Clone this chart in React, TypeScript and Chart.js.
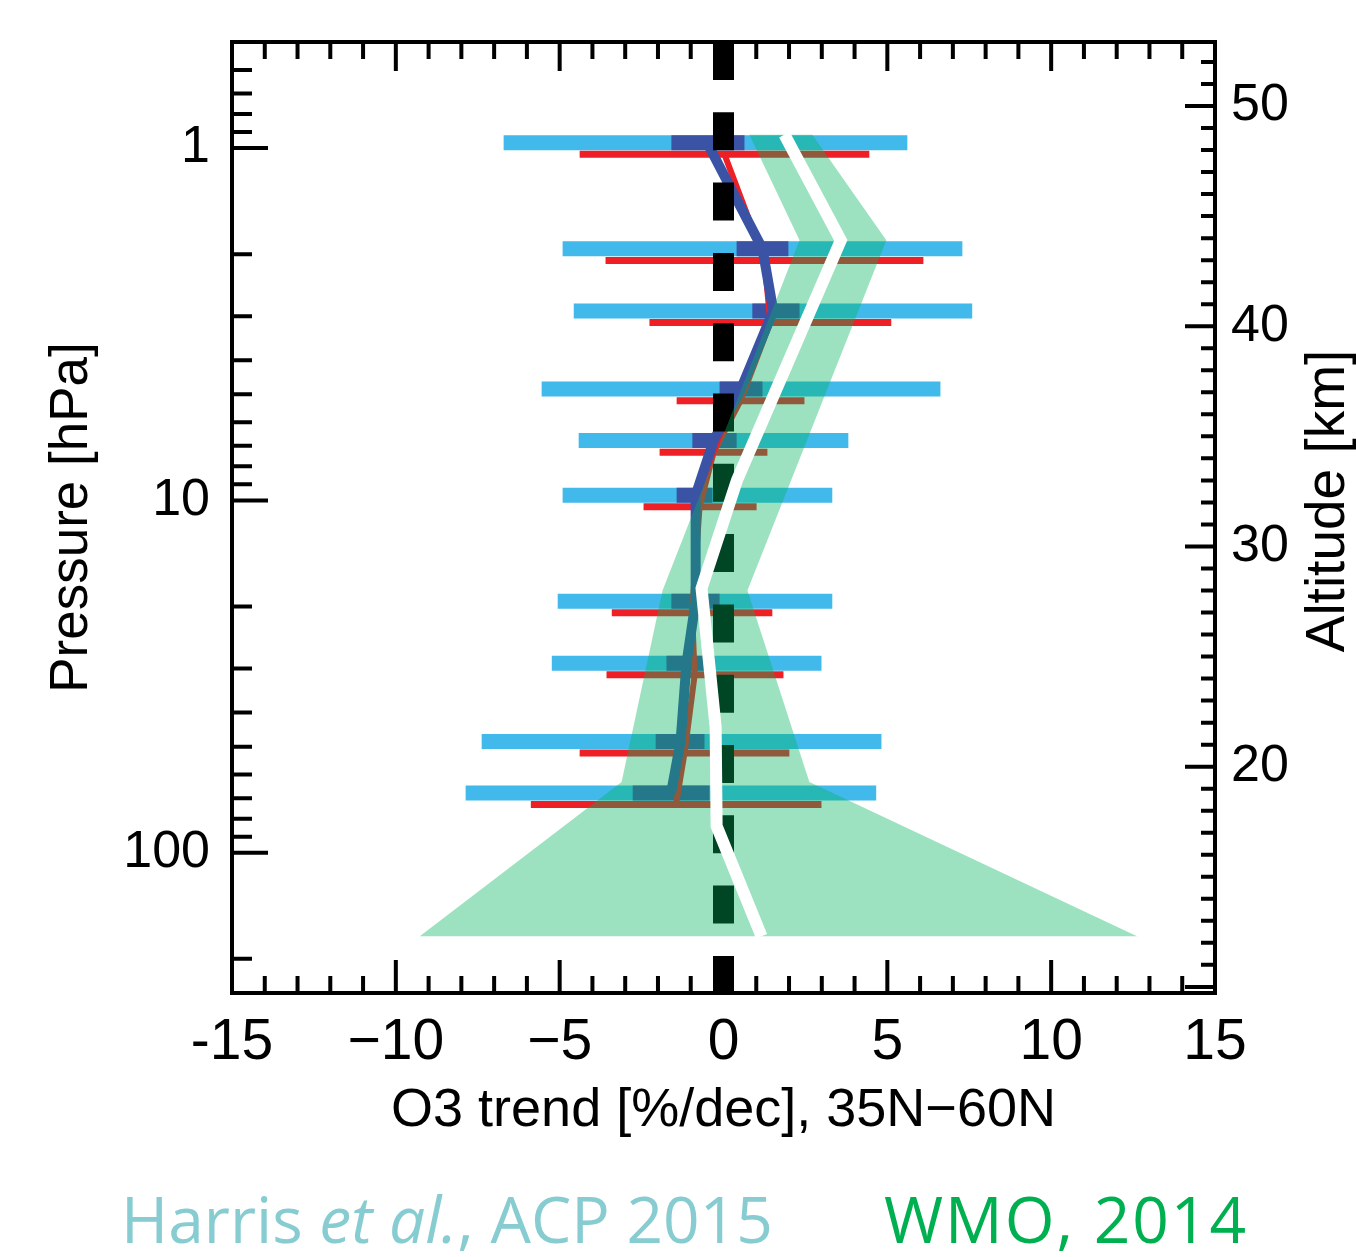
import React, { useEffect, useRef } from 'react';
import { Chart, registerables } from 'chart.js';

Chart.register(...registerables);

const W = 1356;
const H = 1257;

// Pressure levels of the Harris et al. profiles [hPa]
const LEVELS = [1, 2, 3, 5, 7, 10, 20, 30, 50, 70];
// light-blue bars (full range)
const BLUE_LO = [-6.71, -4.91, -4.57, -5.55, -4.42, -4.91, -5.06, -5.24, -7.38, -7.87];
const BLUE_HI = [5.61, 7.29, 7.59, 6.62, 3.81, 3.32, 3.32, 2.99, 4.82, 4.66];
// dark-blue inner bars
const BLUE_SIG_LO = [-1.59, 0.4, 0.88, -0.12, -0.95, -1.43, -1.59, -1.74, -2.07, -2.77];
const BLUE_SIG_HI = [0.64, 1.98, 2.32, 1.19, 0.4, -0.34, -0.12, -0.52, -0.58, -0.43];
// dark-blue mean profile
const BLUE_MEAN = [-0.5, 1.19, 1.52, 0.53, -0.3, -0.85, -0.85, -1.13, -1.31, -1.6];
// red bars and red mean profile
const RED_LO = [-4.39, -3.6, -2.26, -1.43, -1.95, -2.44, -3.41, -3.57, -4.39, -5.88];
const RED_HI = [4.45, 6.1, 5.12, 2.47, 1.34, 1.01, 1.49, 1.83, 2.01, 2.99];
const RED_MEAN = [0.03, 1.25, 1.43, 0.52, -0.3, -0.73, -0.96, -0.88, -1.19, -1.45];

// WMO 2014 profile (altitude in km)
const WMO_MEAN_ALT = [48.7, 43.9, 33.0, 28.1, 21.8, 17.3, 12.3];
const WMO_MEAN = [1.86, 3.58, 0.41, -0.67, -0.24, -0.21, 1.16];
const WMO_HI_ALT = [48.7, 43.9, 28.0, 19.3, 12.3];
const WMO_HI = [2.71, 4.97, 0.73, 2.62, 12.62];
const WMO_LO_ALT = [48.7, 43.9, 28.0, 19.3, 12.3];
const WMO_LO = [0.79, 2.32, -1.86, -3.11, -9.27];

// axes
const X_TICKS = [-15, -10, -5, 0, 5, 10, 15];
const X_TICK_LABELS = ['-15', '\u221210', '\u22125', '0', '5', '10', '15'];
const P_TICKS = [1, 10, 100];
const P_TICK_LABELS = ['1', '10', '100'];
const Z_TICKS = [20, 30, 40, 50];
const Z_TICK_LABELS = ['20', '30', '40', '50'];
const P_MIN = 0.5;
const P_MAX = 250;
const P_SURF = 1013;
const KM_PER_DECADE = 16;
const Z_MAX = KM_PER_DECADE * Math.log10(P_SURF / P_MIN);
const Z_MIN = KM_PER_DECADE * Math.log10(P_SURF / P_MAX);

const BLUE_SHIFT = 0.966;
const RED_SHIFT = 1.042;

const FONT = "'Liberation Sans', Arial, Helvetica, sans-serif";

function bars(lo: number[], hi: number[], f: number) {
  const out: any[] = [];
  LEVELS.forEach((p, i) => {
    out.push({ x: lo[i], y: p * f });
    out.push({ x: hi[i], y: p * f });
    out.push({ x: null, y: null });
  });
  return out;
}

function profile(xs: number[], f: number) {
  return LEVELS.map((p, i) => ({ x: xs[i], y: p * f }));
}

const decorPlugin = {
  id: 'decor',
  afterDatasetsDraw(chart: any) {
    const { ctx, chartArea: a, scales } = chart;
    ctx.save();
    ctx.strokeStyle = '#000';
    ctx.lineWidth = 4;
    ctx.lineCap = 'butt';
    ctx.beginPath();
    // x ticks, bottom and top (inward)
    for (let v = -15; v <= 15; v++) {
      const px = scales.x.getPixelForValue(v);
      const major = v % 5 === 0;
      ctx.moveTo(px, a.bottom);
      ctx.lineTo(px, a.bottom - (major ? 33 : 17));
      ctx.moveTo(px, a.top);
      ctx.lineTo(px, a.top + (major ? 29 : 17));
    }
    // pressure ticks, left
    for (const dec of [0.1, 1, 10, 100]) {
      for (let m = 1; m <= 9; m++) {
        const v = m * dec;
        if (v <= P_MIN || v >= P_MAX) continue;
        const py = scales.y.getPixelForValue(v);
        ctx.moveTo(a.left, py);
        ctx.lineTo(a.left + (m === 1 ? 36 : 20), py);
      }
    }
    // altitude ticks, right
    for (let z = Math.ceil(Z_MIN); z <= Z_MAX; z++) {
      const py = scales.y2.getPixelForValue(z);
      ctx.moveTo(a.right, py);
      ctx.lineTo(a.right - (z % 10 === 0 ? 30 : 14), py);
    }
    ctx.stroke();
    ctx.strokeRect(a.left, a.top, a.right - a.left, a.bottom - a.top);
    ctx.restore();
  },
  afterDraw(chart: any) {
    const { ctx } = chart;
    ctx.save();
    // right axis title (reads bottom to top)
    ctx.fillStyle = '#000';
    ctx.font = `55px ${FONT}`;
    ctx.textAlign = 'center';
    ctx.textBaseline = 'middle';
    ctx.translate(1329, 501);
    ctx.rotate(-Math.PI / 2);
    ctx.fillText('Altitude [km]', 0, 0);
    ctx.restore();

    // source credits
    ctx.save();
    ctx.textBaseline = 'alphabetic';
    ctx.textAlign = 'left';
    const base = 1243;
    let x = 121;
    const normal = `400 64px 'Open Sans', 'Noto Sans', sans-serif`;
    const italic = `italic 400 64px 'Open Sans', 'Noto Sans', sans-serif`;
    ctx.fillStyle = '#87ccd1';
    ctx.font = normal;
    ctx.fillText('Harris ', x, base);
    x += ctx.measureText('Harris ').width;
    ctx.font = italic;
    ctx.fillText('et al.', x, base);
    x += ctx.measureText('et al.').width;
    ctx.font = normal;
    ctx.fillText(', ACP 2015', x, base);
    ctx.fillStyle = '#00b050';
    try {
      (ctx as any).letterSpacing = '2px';
    } catch (e) {
      /* ignore */
    }
    ctx.fillText('WMO, 2014', 884, base);
    ctx.restore();
  },
};

export default function App() {
  const ref = useRef<HTMLCanvasElement>(null);

  useEffect(() => {
    const canvas = ref.current;
    if (!canvas) return;
    Chart.defaults.font.family = FONT;
    Chart.defaults.color = '#000';

    const common = {
      pointRadius: 0,
      pointHoverRadius: 0,
      borderCapStyle: 'butt' as const,
      tension: 0,
      fill: false,
    };

    const band = [
      ...WMO_HI.map((x, i) => ({ x, y: WMO_HI_ALT[i] })),
      ...WMO_LO.map((x, i) => ({ x, y: WMO_LO_ALT[i] })).reverse(),
    ];

    const chart = new Chart(canvas, {
      type: 'line',
      data: {
        datasets: [
          {
            ...common,
            label: 'WMO 2014 mean',
            data: WMO_MEAN.map((x, i) => ({ x, y: WMO_MEAN_ALT[i] })),
            yAxisID: 'y2',
            borderColor: '#ffffff',
            borderWidth: 12,
            borderJoinStyle: 'miter',
          },
          {
            ...common,
            label: 'WMO 2014 range',
            data: band,
            yAxisID: 'y2',
            fill: 'shape',
            backgroundColor: 'rgba(0,180,95,0.39)',
            borderColor: 'rgba(0,0,0,0)',
            borderWidth: 0,
          },
          {
            ...common,
            label: 'zero',
            data: [
              { x: 0, y: P_MIN },
              { x: 0, y: P_MAX },
            ],
            yAxisID: 'y',
            borderColor: '#000',
            borderWidth: 21,
            borderDash: [38, 32.3],
          },
          {
            ...common,
            label: 'blue mean',
            data: profile(BLUE_MEAN, BLUE_SHIFT),
            yAxisID: 'y',
            borderColor: '#3b53a4',
            borderWidth: 10,
            borderJoinStyle: 'round',
          },
          {
            ...common,
            label: 'red mean',
            data: profile(RED_MEAN, RED_SHIFT),
            yAxisID: 'y',
            borderColor: '#ee1f25',
            borderWidth: 6,
            borderJoinStyle: 'round',
          },
          {
            ...common,
            label: 'blue inner',
            data: bars(BLUE_SIG_LO, BLUE_SIG_HI, BLUE_SHIFT),
            yAxisID: 'y',
            borderColor: '#3b53a4',
            borderWidth: 15,
            spanGaps: false,
          },
          {
            ...common,
            label: 'red bars',
            data: bars(RED_LO, RED_HI, RED_SHIFT),
            yAxisID: 'y',
            borderColor: '#ee1f25',
            borderWidth: 7,
            spanGaps: false,
          },
          {
            ...common,
            label: 'blue bars',
            data: bars(BLUE_LO, BLUE_HI, BLUE_SHIFT),
            yAxisID: 'y',
            borderColor: '#41b9ea',
            borderWidth: 15,
            spanGaps: false,
          },
        ],
      },
      options: {
        animation: false,
        responsive: false,
        devicePixelRatio: 1,
        events: [],
        layout: { padding: { top: 42, left: 0, right: 0, bottom: 0 } },
        plugins: {
          legend: { display: false },
          tooltip: { enabled: false },
        },
        scales: {
          x: {
            type: 'linear',
            position: 'bottom',
            min: -15,
            max: 15,
            afterBuildTicks: (s: any) => {
              s.ticks = X_TICKS.map((value) => ({ value }));
            },
            ticks: {
              autoSkip: false,
              maxRotation: 0,
              padding: 16,
              font: { size: 57 },
              color: '#000',
              callback: (_v: any, i: number) => X_TICK_LABELS[i],
            },
            grid: { display: false, drawTicks: false },
            border: { display: false },
            title: {
              display: true,
              text: 'O3 trend [%/dec], 35N\u221260N',
              font: { size: 54 },
              color: '#000',
              padding: { top: 0, bottom: 113 },
            },
            afterFit: (s: any) => {
              s.height = H - 993;
              s.paddingLeft = 0;
              s.paddingRight = 0;
            },
          },
          y: {
            type: 'logarithmic',
            position: 'left',
            reverse: true,
            min: P_MIN,
            max: P_MAX,
            afterBuildTicks: (s: any) => {
              s.ticks = P_TICKS.map((value) => ({ value }));
            },
            ticks: {
              autoSkip: false,
              padding: 22,
              font: { size: 52 },
              color: '#000',
              callback: (_v: any, i: number) => P_TICK_LABELS[i],
            },
            grid: { display: false, drawTicks: false },
            border: { display: false },
            title: {
              display: true,
              text: 'Pressure [hPa]',
              font: { size: 53 },
              color: '#000',
              padding: { top: 41, bottom: 0 },
            },
            afterFit: (s: any) => {
              s.width = 232;
              s.paddingTop = 0;
              s.paddingBottom = 0;
            },
          },
          y2: {
            type: 'linear',
            position: 'right',
            min: Z_MIN,
            max: Z_MAX,
            afterBuildTicks: (s: any) => {
              s.ticks = Z_TICKS.map((value) => ({ value }));
            },
            ticks: {
              autoSkip: false,
              padding: 16,
              font: { size: 52 },
              color: '#000',
              callback: (_v: any, i: number) => Z_TICK_LABELS[i],
            },
            grid: { display: false, drawTicks: false },
            border: { display: false },
            afterFit: (s: any) => {
              s.width = W - 1215;
              s.paddingTop = 0;
              s.paddingBottom = 0;
            },
          },
        },
      },
      plugins: [decorPlugin],
    } as any);

    return () => chart.destroy();
  }, []);

  return (
    <div style={{ position: 'absolute', left: 0, top: 0, width: W, height: H, background: '#fff' }}>
      <canvas ref={ref} width={W} height={H} style={{ display: 'block', width: W, height: H }} />
    </div>
  );
}
